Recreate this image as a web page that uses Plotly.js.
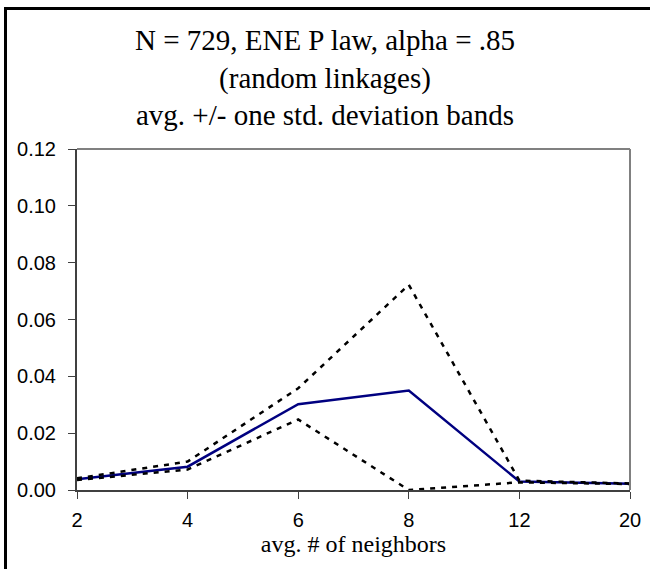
<!DOCTYPE html>
<html>
<head>
<meta charset="utf-8">
<script src="https://cdn.plot.ly/plotly-3.0.1.min.js"></script>
<style>
  html, body { margin: 0; padding: 0; background: #ffffff; }
  #wrap { position: relative; width: 650px; height: 569px; overflow: hidden; }
  #chart { position: absolute; left: 0; top: 0; width: 650px; height: 569px; }
  #frame { position: absolute; left: 4px; top: 7px; width: 700px; height: 700px;
           border-top: 3px solid #000; border-left: 3px solid #000; pointer-events: none; }
</style>
</head>
<body>
<div id="wrap">
  <div id="chart"></div>
  <div id="frame"></div>
</div>
<script>
// categories (avg. # of neighbors)
var neighbors = ['2', '4', '6', '8', '12', '20'];
// average
var avgValues = [0.0038, 0.0082, 0.0302, 0.0350, 0.0030, 0.0022];
// avg + one std. deviation
var upperBand = [0.0041, 0.0100, 0.0358, 0.0722, 0.0033, 0.0023];
// avg - one std. deviation
var lowerBand = [0.0035, 0.0072, 0.0248, 0.0000, 0.0027, 0.0021];
// y tick labels
var yTickVals = [0, 0.02, 0.04, 0.06, 0.08, 0.10, 0.12];
var yTickText = ['0.00', '0.02', '0.04', '0.06', '0.08', '0.10', '0.12'];

var traces = [
  { x: neighbors, y: avgValues, type: 'scatter', mode: 'lines', name: 'avg',
    line: { color: '#000080', width: 2.5 } },
  { x: neighbors, y: upperBand, type: 'scatter', mode: 'lines', name: 'avg + std',
    line: { color: '#000000', width: 2.5, dash: '5px,6px' } },
  { x: neighbors, y: lowerBand, type: 'scatter', mode: 'lines', name: 'avg - std',
    line: { color: '#000000', width: 2.5, dash: '5px,6px' } }
];

var layout = {
  width: 650, height: 569,
  margin: { l: 77, r: 20, t: 149, b: 79 },
  paper_bgcolor: '#ffffff', plot_bgcolor: '#ffffff',
  showlegend: false,
  title: {
    text: 'N = 729, ENE P law, alpha = .85<br>(random linkages)<br>avg. +/- one std. deviation bands',
    font: { family: 'Liberation Serif, Times New Roman, serif', size: 29, color: '#000' },
    x: 0.5, xref: 'container', xanchor: 'center',
    y: 0.912, yref: 'container', yanchor: 'top'
  },
  xaxis: {
    type: 'category', range: [0, 5],
    showgrid: false, zeroline: false,
    showline: true, linecolor: '#404040', linewidth: 2,
    ticks: 'outside', ticklen: 7, tickwidth: 1, tickcolor: '#404040',
    tickfont: { family: 'Liberation Sans, Arial, sans-serif', size: 20, color: '#000' },
    ticklabelstandoff: 4,
    title: { text: 'avg. # of neighbors', standoff: 0,
             font: { family: 'Liberation Serif, Times New Roman, serif', size: 24, color: '#000' } }
  },
  xaxis2: {
    type: 'linear', range: [0, 5], overlaying: 'x', anchor: 'y', side: 'bottom',
    tickvals: [0, 1, 2, 3, 4, 5], showticklabels: false,
    showgrid: false, zeroline: false, showline: false,
    ticks: 'inside', ticklen: 7, tickwidth: 1, tickcolor: '#404040'
  },
  yaxis: {
    range: [0, 0.12], tickvals: yTickVals, ticktext: yTickText,
    showgrid: false, zeroline: false,
    showline: true, linecolor: '#404040', linewidth: 2,
    ticks: 'outside', ticklen: 7, tickwidth: 1, tickcolor: '#404040',
    tickfont: { family: 'Liberation Sans, Arial, sans-serif', size: 20, color: '#000' },
    ticklabelstandoff: 8
  },
  shapes: [
    { type: 'line', xref: 'paper', yref: 'paper', x0: 0, x1: 1, y0: 1, y1: 1,
      line: { color: '#808080', width: 2 } },
    { type: 'line', xref: 'paper', yref: 'paper', x0: 1, x1: 1, y0: 0, y1: 1,
      line: { color: '#808080', width: 2 } }
  ]
};

Plotly.newPlot('chart', traces, layout, { displayModeBar: false, staticPlot: true });
</script>
</body>
</html>
